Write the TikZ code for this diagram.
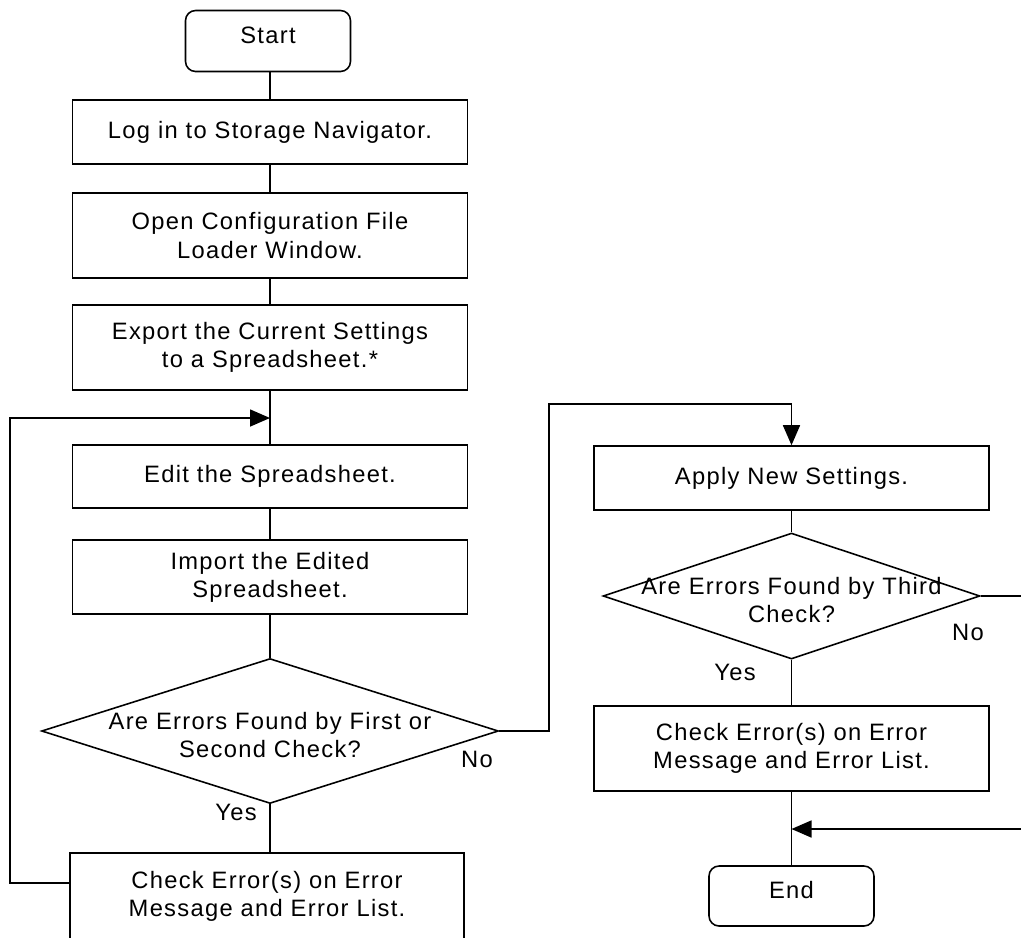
\documentclass[tikz,border=0pt]{standalone}
\usepackage{fontspec}
\setmainfont{Liberation Sans}[LetterSpace=5.5]
\usetikzlibrary{shapes.geometric, arrows.meta}

\newcommand{\question}[1]{\smash{\makebox[0pt]{\raisebox{-0.26cm}{\begin{tabular}{@{}c@{}}#1\end{tabular}}}}}

\begin{document}
\begin{tikzpicture}[x=0.02cm, y=-0.02cm, line width=0.9pt,
    every node/.style={font=\fontsize{13.5}{16}\selectfont},
    stepbox/.style={rectangle, draw, minimum width=7.9cm, align=center},
    endbox/.style={rectangle, draw, rounded corners=0.2cm, minimum width=3.3cm, minimum height=1.22cm, text depth=0.24cm},
    decision/.style={diamond, draw, inner sep=0pt},
    >={Triangle[length=0.4cm, width=0.34cm]}]
    \useasboundingbox (0,0) rectangle (1021,937);

    % left column
    \node[endbox] (start) at (268,41) {Start};
    \node[stepbox, minimum height=1.28cm] (login) at (270,132) {Log in to Storage Navigator.};
    \node[stepbox, minimum height=1.7cm] (open) at (270,235.5) {Open Configuration File\\Loader Window.};
    \node[stepbox, minimum height=1.7cm] (export) at (270,347.5) {Export the Current Settings\\to a Spreadsheet.*};
    \node[stepbox, minimum height=1.26cm] (edit) at (270,476.5) {Edit the Spreadsheet.};
    \node[stepbox, minimum height=1.48cm] (import) at (270,577) {Import the Edited\\Spreadsheet.};
    \node[decision, minimum width=9.14cm, minimum height=2.9cm] (check12) at (270,731) {\question{Are Errors Found by First or\\Second Check?}};
    \node[stepbox, minimum width=7.88cm, minimum height=1.72cm] (errors1) at (267,896) {Check Error(s) on Error\\Message and Error List.};
    \node (yes1) at (236,812) {Yes};
    \node (no1) at (477,759) {No};

    % right column
    \node[stepbox, minimum height=1.28cm] (apply) at (791.5,478) {Apply New Settings.};
    \node[decision, minimum width=7.54cm, minimum height=2.52cm] (check3) at (791.5,596) {\question{Are Errors Found by Third\\Check?}};
    \node[stepbox, minimum height=1.7cm] (errors2) at (791.5,748.5) {Check Error(s) on Error\\Message and Error List.};
    \node[endbox, minimum height=1.2cm] (finish) at (791.5,896) {End};
    \node (yes2) at (735,672) {Yes};
    \node (no2) at (968,632) {No};

    \coordinate (merge1) at (270,418);
    \coordinate (back1) at (10,883);
    \coordinate (up1) at (549,404);
    \coordinate (merge2) at (791.5,829);
    \coordinate (down2) at (1026,829);

    \draw (start.south -| login) -- (login);
    \draw (login) -- (open);
    \draw (open) -- (export);
    \draw (export) -- (edit);
    \draw (edit) -- (import);
    \draw (import) -- (check12);
    \draw (check12.south) -- (check12.south |- errors1.north);
    \draw[->] (back1 -| errors1.west) -- (back1) |- (merge1);
    \draw[->] (check12.east) -| (up1) -| (apply.north);

    \draw (apply) -- (check3);
    \draw (check3) -- (errors2);
    \draw (errors2) -- (finish);
    \draw[->] (check3.east) -| (down2) -- (merge2);
\end{tikzpicture}
\end{document}
